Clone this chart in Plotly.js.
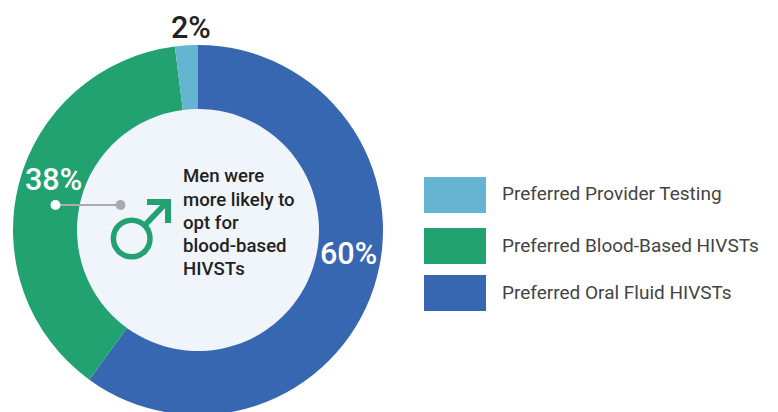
<!DOCTYPE html>
<html>
<head>
<meta charset="utf-8">
<script src="https://cdn.plot.ly/plotly-3.0.1.min.js"></script>
<style>
html,body{margin:0;padding:0;background:#fff;overflow:hidden}
#wrap{width:778px;height:412px;overflow:hidden}
</style>
</head>
<body>
<div id="wrap"><div id="chart"></div></div>
<script>
// Shares of preferred testing method, clockwise from twelve o'clock
const categories = ['Preferred Oral Fluid HIVSTs', 'Preferred Blood-Based HIVSTs', 'Preferred Provider Testing'];
const shares = [60, 38, 2];
const sliceColors = ['#3867B2', '#23A271', '#65B5D2'];

const legendOrder = [2, 1, 0];
const legendRows = [195, 246, 293];
const legendTextRows = [193.5, 245.5, 292.5];
const labelSpots = [[348, 253, '#FFFFFF'], [53.5, 180, '#FFFFFF'], [191, 28, '#222222']];
const calloutLines = ['Men were', 'more likely to', 'opt for', 'blood-based', 'HIVSTs'];
const calloutRows = [176, 200, 223, 246, 269];

// The plot is taller than the window so the ring can run off the bottom edge
const W = 778, H = 460;
const cx = 198, cy = 230, outer = 185, inner = 121;
const fx = x => x / W;
const fy = y => 1 - y / H;

const font = 'Roboto, sans-serif';
const circle = (x, y, r, fill, line) => ({
  type: 'circle', xref: 'paper', yref: 'paper',
  x0: fx(x - r), x1: fx(x + r), y0: fy(y + r), y1: fy(y - r),
  fillcolor: fill, line: line || {width: 0}
});
const segment = (x0, y0, x1, y1, color, width) => ({
  type: 'line', xref: 'paper', yref: 'paper',
  x0: fx(x0), x1: fx(x1), y0: fy(y0), y1: fy(y1),
  line: {color: color, width: width}
});

const shapes = [
  Object.assign(circle(cx, cy, inner + 1, '#F0F5FC'), {layer: 'below'}),
  // leader from the green band to the centre
  segment(56, 205, 120, 205, '#ABABAF', 2),
  circle(55.5, 205, 5, '#FFFFFF'),
  circle(120.5, 205, 5, '#ABABAF'),
  // male symbol
  circle(131.7, 238.5, 18.3, 'rgba(0,0,0,0)', {color: '#23A271', width: 5.5}),
  segment(146, 224, 167, 202, '#23A271', 5.5),
  {
    type: 'path', xref: 'paper', yref: 'paper', line: {width: 0}, fillcolor: '#23A271',
    path: [[147, 199], [171, 199], [171, 223], [165, 223], [165, 205], [147, 205]]
      .map((p, i) => (i ? 'L' : 'M') + fx(p[0]) + ',' + fy(p[1])).join(' ') + ' Z'
  }
];

const annotations = [];
const addText = (x, y, text, size, color, anchor, weight) => annotations.push({
  xref: 'paper', yref: 'paper', x: fx(x), y: fy(y), text: text, showarrow: false,
  xanchor: anchor, yanchor: 'middle', borderpad: 0,
  font: {family: font, size: size, color: color, weight: weight}
});

// Value labels come straight from the slice values
shares.forEach((v, i) => {
  const s = labelSpots[i];
  addText(s[0], s[1], v + '%', 30.5, s[2], 'center', 500);
});

calloutLines.forEach((line, i) => addText(182, calloutRows[i], line, 18.6, '#222222', 'left', 500));

// Legend keys on the right
legendOrder.forEach((idx, row) => {
  const y = legendRows[row];
  shapes.push({
    type: 'rect', xref: 'paper', yref: 'paper', line: {width: 0}, fillcolor: sliceColors[idx],
    x0: fx(424), x1: fx(486), y0: fy(y + 18), y1: fy(y - 18)
  });
  addText(501, legendTextRows[row], categories[idx], 19, '#444444', 'left', 400);
});

const data = [{
  type: 'pie',
  values: shares,
  labels: categories,
  sort: false,
  direction: 'clockwise',
  rotation: 0,
  hole: inner / outer,
  textinfo: 'none',
  hoverinfo: 'label+percent',
  marker: {colors: sliceColors, line: {width: 0}},
  domain: {x: [fx(cx - outer), fx(cx + outer)], y: [fy(cy + outer), fy(cy - outer)]}
}];

const layout = {
  width: W, height: H,
  margin: {l: 0, r: 0, t: 0, b: 0},
  paper_bgcolor: '#FFFFFF',
  showlegend: false,
  shapes: shapes,
  annotations: annotations
};

Plotly.newPlot('chart', data, layout, {displayModeBar: false, staticPlot: true});
</script>
</body>
</html>
